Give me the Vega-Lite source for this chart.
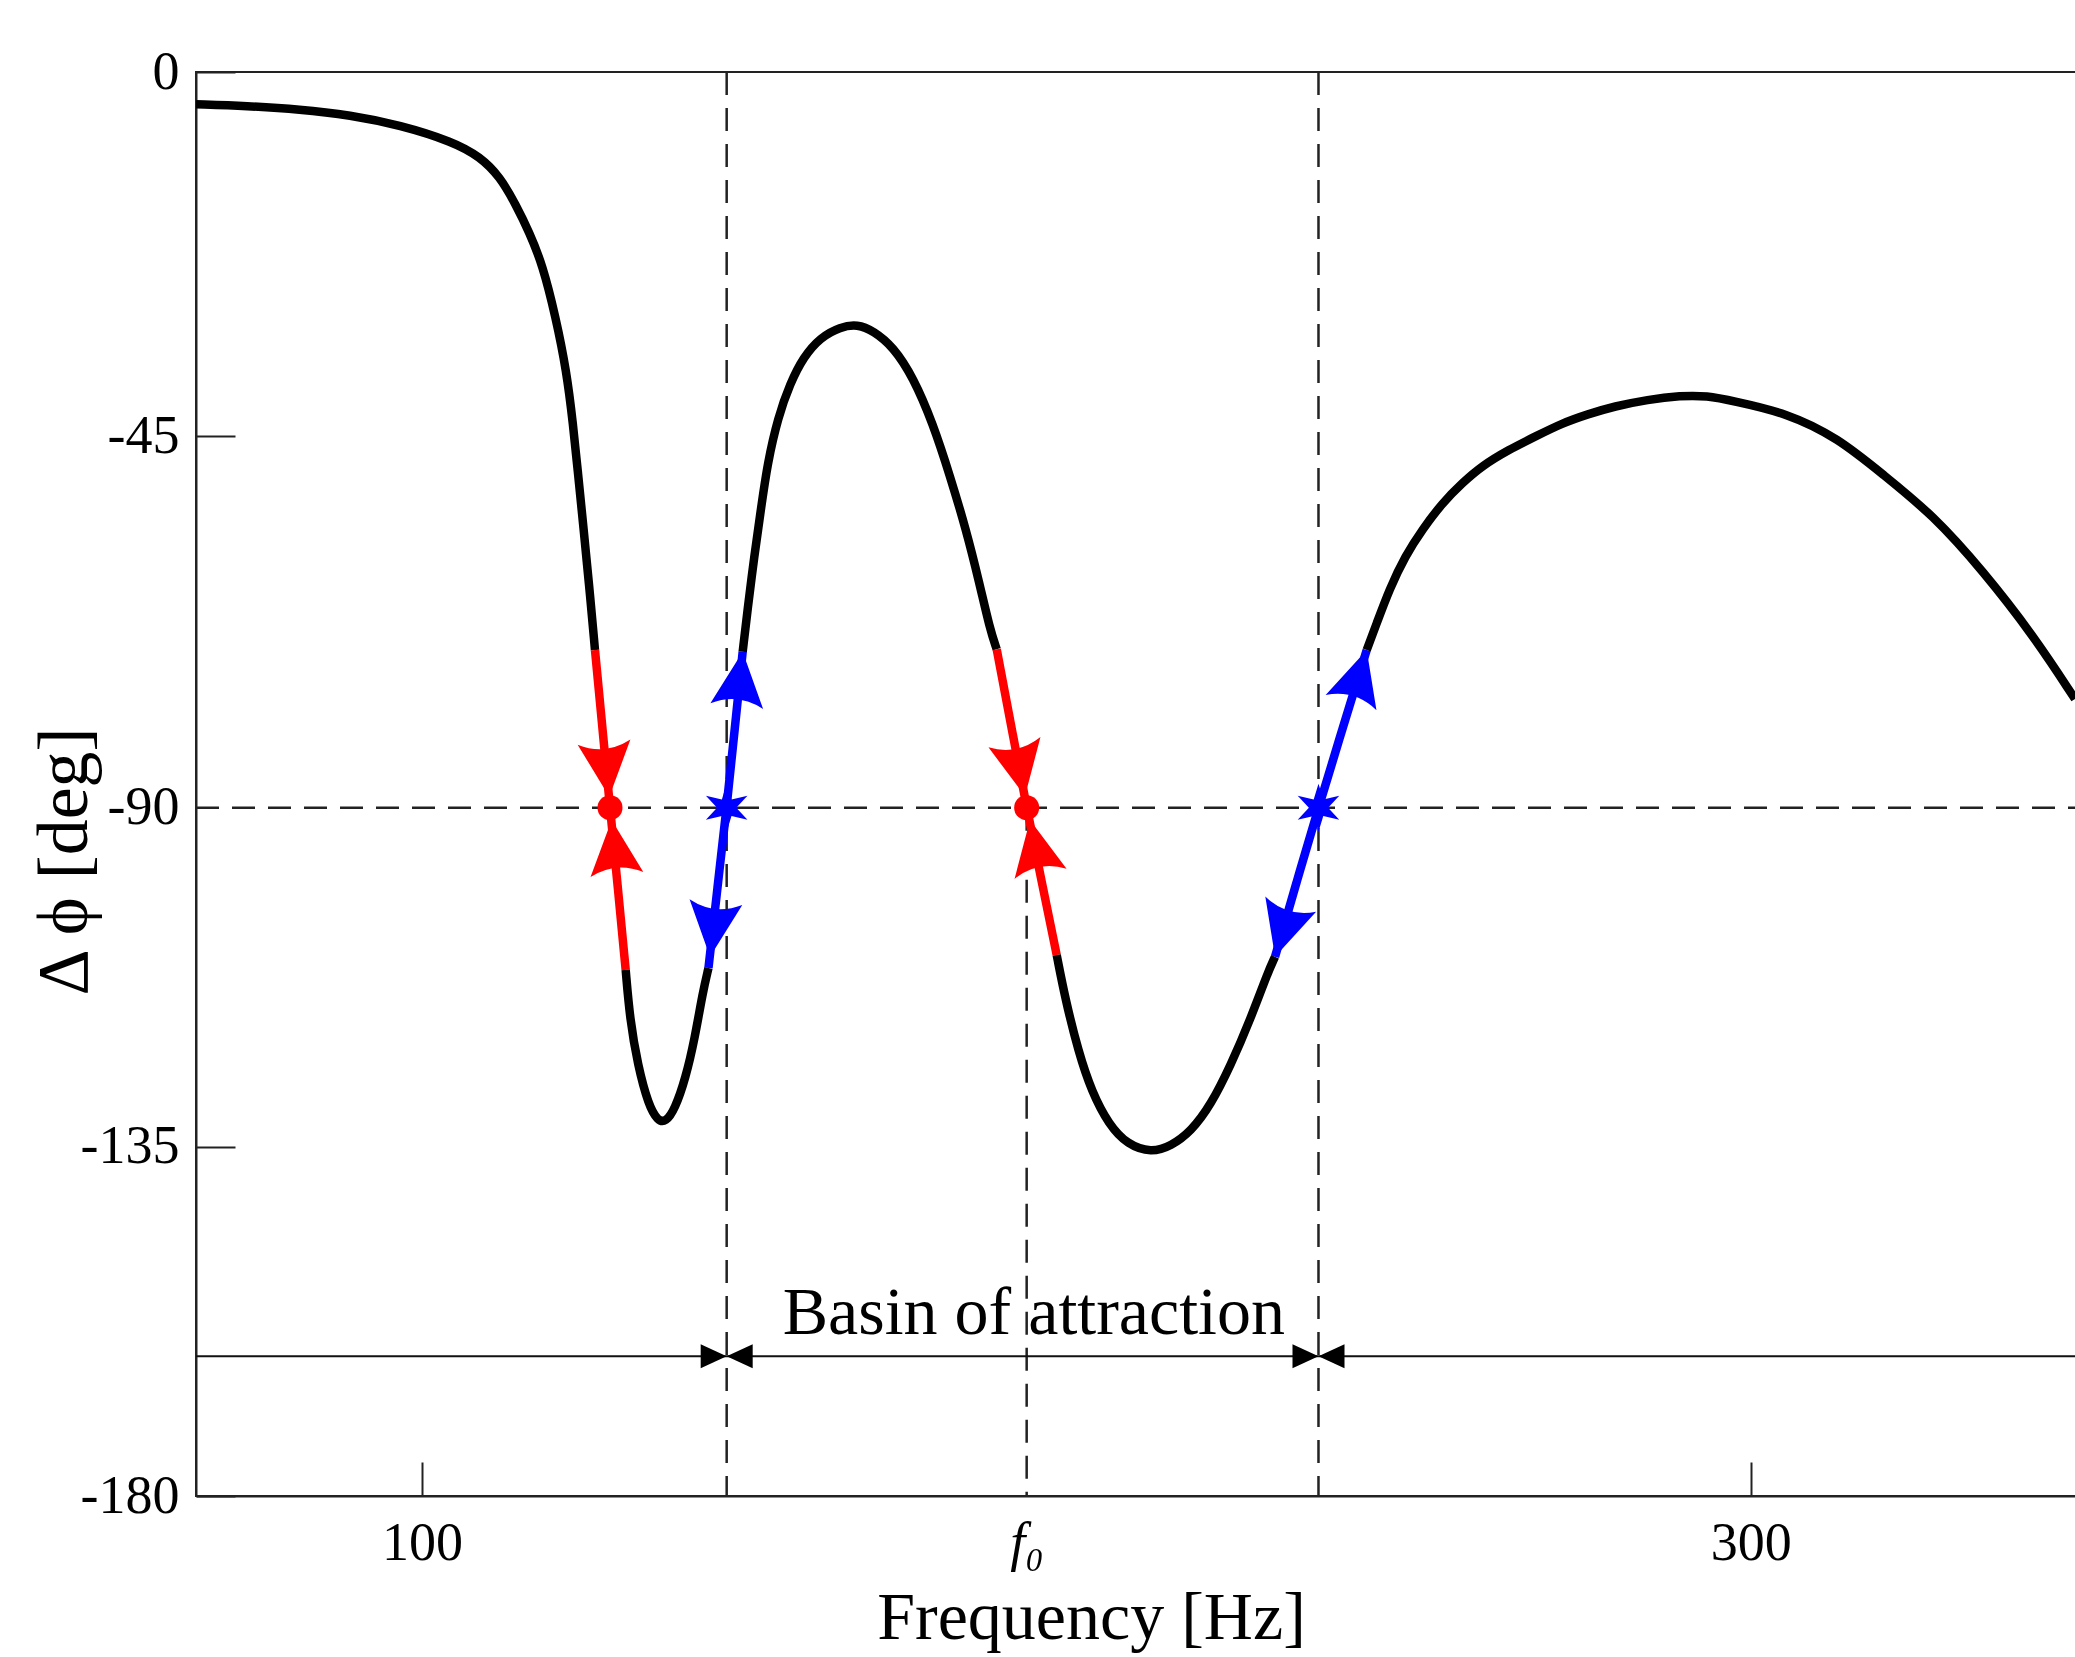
{
  "$schema": "https://vega.github.io/schema/vega-lite/v6.json",
  "width": 1880,
  "height": 1424,
  "autosize": {"type": "none"},
  "padding": {"left": 196, "top": 72, "right": 0, "bottom": 161},
  "background": "white",
  "config": {"view": {"stroke": "#222", "strokeWidth": 2}, "font": "Liberation Serif"},
  "datasets": {
    "curve": [
      {"f": 66.00, "p": -3.99, "s": "A", "k": "curve"},
      {"f": 73.63, "p": -4.20, "s": "A", "k": "curve"},
      {"f": 81.65, "p": -4.61, "s": "A", "k": "curve"},
      {"f": 89.18, "p": -5.32, "s": "A", "k": "curve"},
      {"f": 96.70, "p": -6.55, "s": "A", "k": "curve"},
      {"f": 104.68, "p": -8.62, "s": "A", "k": "curve"},
      {"f": 108.74, "p": -10.47, "s": "A", "k": "curve"},
      {"f": 111.75, "p": -12.94, "s": "A", "k": "curve"},
      {"f": 114.16, "p": -16.44, "s": "A", "k": "curve"},
      {"f": 116.12, "p": -19.73, "s": "A", "k": "curve"},
      {"f": 118.16, "p": -23.82, "s": "A", "k": "curve"},
      {"f": 120.15, "p": -30.36, "s": "A", "k": "curve"},
      {"f": 121.75, "p": -36.90, "s": "A", "k": "curve"},
      {"f": 122.74, "p": -43.45, "s": "A", "k": "curve"},
      {"f": 123.54, "p": -49.89, "s": "A", "k": "curve"},
      {"f": 124.34, "p": -56.30, "s": "A", "k": "curve"},
      {"f": 125.13, "p": -62.71, "s": "A", "k": "curve"},
      {"f": 126.05, "p": -70.91, "s": "A", "k": "curve"},
      {"f": 126.05, "p": -70.91, "s": "R1", "k": "stable"},
      {"f": 127.18, "p": -80.47, "s": "R1", "k": "stable"},
      {"f": 128.31, "p": -90.0, "s": "R1", "k": "stable"},
      {"f": 129.51, "p": -100.79, "s": "R1", "k": "stable"},
      {"f": 130.67, "p": -111.54, "s": "R1", "k": "stable"},
      {"f": 130.67, "p": -111.54, "s": "B", "k": "curve"},
      {"f": 131.30, "p": -118.05, "s": "B", "k": "curve"},
      {"f": 132.49, "p": -124.19, "s": "B", "k": "curve"},
      {"f": 134.09, "p": -129.46, "s": "B", "k": "curve"},
      {"f": 135.49, "p": -131.56, "s": "B", "k": "curve"},
      {"f": 136.68, "p": -131.75, "s": "B", "k": "curve"},
      {"f": 138.08, "p": -130.0, "s": "B", "k": "curve"},
      {"f": 139.67, "p": -125.95, "s": "B", "k": "curve"},
      {"f": 141.06, "p": -120.68, "s": "B", "k": "curve"},
      {"f": 142.26, "p": -114.53, "s": "B", "k": "curve"},
      {"f": 143.13, "p": -111.28, "s": "B", "k": "curve"},
      {"f": 143.13, "p": -111.28, "s": "U1", "k": "unstable"},
      {"f": 144.49, "p": -100.53, "s": "U1", "k": "unstable"},
      {"f": 145.87, "p": -90.0, "s": "U1", "k": "unstable"},
      {"f": 147.08, "p": -80.47, "s": "U1", "k": "unstable"},
      {"f": 148.28, "p": -71.11, "s": "U1", "k": "unstable"},
      {"f": 148.28, "p": -71.11, "s": "C", "k": "curve"},
      {"f": 149.03, "p": -65.91, "s": "C", "k": "curve"},
      {"f": 150.03, "p": -59.50, "s": "C", "k": "curve"},
      {"f": 151.02, "p": -53.90, "s": "C", "k": "curve"},
      {"f": 152.01, "p": -48.29, "s": "C", "k": "curve"},
      {"f": 153.61, "p": -42.63, "s": "C", "k": "curve"},
      {"f": 155.40, "p": -38.55, "s": "C", "k": "curve"},
      {"f": 157.39, "p": -35.27, "s": "C", "k": "curve"},
      {"f": 159.97, "p": -32.81, "s": "C", "k": "curve"},
      {"f": 162.97, "p": -31.51, "s": "C", "k": "curve"},
      {"f": 165.56, "p": -31.18, "s": "C", "k": "curve"},
      {"f": 167.95, "p": -32.0, "s": "C", "k": "curve"},
      {"f": 170.93, "p": -33.96, "s": "C", "k": "curve"},
      {"f": 173.93, "p": -37.72, "s": "C", "k": "curve"},
      {"f": 176.91, "p": -43.45, "s": "C", "k": "curve"},
      {"f": 179.50, "p": -49.89, "s": "C", "k": "curve"},
      {"f": 181.89, "p": -56.30, "s": "C", "k": "curve"},
      {"f": 183.88, "p": -62.71, "s": "C", "k": "curve"},
      {"f": 185.47, "p": -68.32, "s": "C", "k": "curve"},
      {"f": 186.51, "p": -70.82, "s": "C", "k": "curve"},
      {"f": 186.51, "p": -70.82, "s": "R2", "k": "stable"},
      {"f": 188.77, "p": -80.45, "s": "R2", "k": "stable"},
      {"f": 191.02, "p": -90.0, "s": "R2", "k": "stable"},
      {"f": 193.28, "p": -99.81, "s": "R2", "k": "stable"},
      {"f": 195.54, "p": -109.55, "s": "R2", "k": "stable"},
      {"f": 195.54, "p": -109.55, "s": "D", "k": "curve"},
      {"f": 196.83, "p": -115.39, "s": "D", "k": "curve"},
      {"f": 198.82, "p": -122.43, "s": "D", "k": "curve"},
      {"f": 200.81, "p": -127.70, "s": "D", "k": "curve"},
      {"f": 203.40, "p": -132.09, "s": "D", "k": "curve"},
      {"f": 206.20, "p": -134.73, "s": "D", "k": "curve"},
      {"f": 209.78, "p": -135.76, "s": "D", "k": "curve"},
      {"f": 212.76, "p": -134.9, "s": "D", "k": "curve"},
      {"f": 215.75, "p": -132.97, "s": "D", "k": "curve"},
      {"f": 218.73, "p": -129.46, "s": "D", "k": "curve"},
      {"f": 221.73, "p": -124.19, "s": "D", "k": "curve"},
      {"f": 224.71, "p": -118.05, "s": "D", "k": "curve"},
      {"f": 227.30, "p": -111.89, "s": "D", "k": "curve"},
      {"f": 228.40, "p": -109.78, "s": "D", "k": "curve"},
      {"f": 228.40, "p": -109.78, "s": "U2", "k": "unstable"},
      {"f": 231.66, "p": -99.82, "s": "U2", "k": "unstable"},
      {"f": 234.94, "p": -90.0, "s": "U2", "k": "unstable"},
      {"f": 238.57, "p": -80.40, "s": "U2", "k": "unstable"},
      {"f": 242.20, "p": -70.91, "s": "U2", "k": "unstable"},
      {"f": 242.20, "p": -70.91, "s": "E", "k": "curve"},
      {"f": 243.63, "p": -67.83, "s": "E", "k": "curve"},
      {"f": 245.63, "p": -63.51, "s": "E", "k": "curve"},
      {"f": 248.01, "p": -59.50, "s": "E", "k": "curve"},
      {"f": 250.59, "p": -56.30, "s": "E", "k": "curve"},
      {"f": 253.59, "p": -53.10, "s": "E", "k": "curve"},
      {"f": 256.58, "p": -50.69, "s": "E", "k": "curve"},
      {"f": 259.57, "p": -48.61, "s": "E", "k": "curve"},
      {"f": 263.55, "p": -46.68, "s": "E", "k": "curve"},
      {"f": 267.53, "p": -45.08, "s": "E", "k": "curve"},
      {"f": 271.52, "p": -43.45, "s": "E", "k": "curve"},
      {"f": 275.50, "p": -42.30, "s": "E", "k": "curve"},
      {"f": 279.48, "p": -41.33, "s": "E", "k": "curve"},
      {"f": 284.46, "p": -40.50, "s": "E", "k": "curve"},
      {"f": 289.44, "p": -40.02, "s": "E", "k": "curve"},
      {"f": 293.42, "p": -40.02, "s": "E", "k": "curve"},
      {"f": 297.33, "p": -40.67, "s": "E", "k": "curve"},
      {"f": 305.45, "p": -42.16, "s": "E", "k": "curve"},
      {"f": 313.13, "p": -45.24, "s": "E", "k": "curve"},
      {"f": 319.90, "p": -49.66, "s": "E", "k": "curve"},
      {"f": 327.43, "p": -54.56, "s": "E", "k": "curve"},
      {"f": 334.95, "p": -61.34, "s": "E", "k": "curve"},
      {"f": 342.48, "p": -69.09, "s": "E", "k": "curve"},
      {"f": 348.80, "p": -76.84, "s": "E", "k": "curve"}
    ],
    "arrows": [
      {"f": 128.20, "p": -88.67, "ang": 174.5, "k": "stable"},
      {"f": 128.56, "p": -91.63, "ang": -5.5, "k": "stable"},
      {"f": 148.28, "p": -71.11, "ang": 6.2, "k": "unstable"},
      {"f": 143.36, "p": -109.78, "ang": 186.2, "k": "unstable"},
      {"f": 190.77, "p": -88.59, "ang": 168.9, "k": "stable"},
      {"f": 191.52, "p": -91.63, "ang": -11.1, "k": "stable"},
      {"f": 242.20, "p": -70.91, "ang": 16.6, "k": "unstable"},
      {"f": 228.40, "p": -109.78, "ang": 196.6, "k": "unstable"}
    ],
    "stablePts": [
      {"f": 128.31, "p": -90.0, "k": "stable"},
      {"f": 191.02, "p": -90.0, "k": "stable"}
    ],
    "unstablePts": [
      {"f": 145.87, "p": -90.0, "k": "unstable"},
      {"f": 234.94, "p": -90.0, "k": "unstable"}
    ],
    "vlines": [
      {"f": 145.87, "p": 0, "p2": -180},
      {"f": 191.02, "p": -90, "p2": -180},
      {"f": 234.94, "p": 0, "p2": -180}
    ],
    "hline": [
      {"f": 66, "f2": 348.95, "p": -90}
    ],
    "basinLine": [
      {"f": 66, "f2": 348.95, "p": -162}
    ],
    "basinHeads": [
      {"f": 145.87, "p": -162, "dir": "right"},
      {"f": 145.87, "p": -162, "dir": "left"},
      {"f": 234.94, "p": -162, "dir": "right"},
      {"f": 234.94, "p": -162, "dir": "left"}
    ],
    "label": [
      {"f": 192.1, "p": -159.1, "t": "Basin of attraction"}
    ]
  },
  "encoding": {
    "x": {
      "field": "f",
      "type": "quantitative",
      "scale": {"domain": [66, 348.95], "nice": false, "zero": false},
      "axis": {
        "title": "Frequency [Hz]",
        "values": [100, 191.02, 300],
        "labelExpr": "datum.value > 150 && datum.value < 250 ? 'f₀' : datum.label",
        "labelFontStyle": {"condition": {"test": "datum.value > 150 && datum.value < 250", "value": "italic"}, "value": "normal"},
        "tickOpacity": {"condition": {"test": "datum.value > 150 && datum.value < 250", "value": 0}, "value": 1},
        "tickSize": -34,
        "tickWidth": 2,
        "tickColor": "#222",
        "domainColor": "#222",
        "domainWidth": 2,
        "grid": false,
        "labelPadding": 97,
        "labelBaseline": "alphabetic",
        "labelFont": "Liberation Serif",
        "labelFontSize": 54,
        "labelColor": "#000",
        "labelFlush": false,
        "labelOverlap": false,
        "titleFont": "Liberation Serif",
        "titleFontSize": 68,
        "titleFontWeight": "normal",
        "titleColor": "#000",
        "titleAlign": "center",
        "titleBaseline": "alphabetic",
        "titleX": 895,
        "titleY": 142
      }
    },
    "y": {
      "field": "p",
      "type": "quantitative",
      "scale": {"domain": [-180, -135, -90, -45, 0], "range": [1424, 1074.7, 735.7, 364, 0], "nice": false, "zero": false},
      "axis": {
        "title": "Δ ϕ [deg]",
        "values": [0, -45, -90, -135, -180],
        "labelExpr": "datum.value == 0 ? '0' : '-' + abs(datum.value)",
        "tickOpacity": {"condition": {"test": "datum.value == -90", "value": 0}, "value": 1},
        "tickSize": -39,
        "tickWidth": 2,
        "tickColor": "#222",
        "domainColor": "#222",
        "domainWidth": 2,
        "grid": false,
        "labelPadding": 56,
        "labelAlign": "right",
        "labelBaseline": "middle",
        "labelFont": "Liberation Serif",
        "labelFontSize": 54,
        "labelColor": "#000",
        "labelFlush": false,
        "labelOverlap": false,
        "titleFont": "Liberation Serif",
        "titleFontSize": 72,
        "titleFontWeight": "normal",
        "titleColor": "#000",
        "titleAngle": 270,
        "titleAlign": "center",
        "titleBaseline": "alphabetic",
        "titleX": -110,
        "titleY": 789
      }
    }
  },
  "layer": [
    {
      "data": {"name": "vlines"},
      "mark": {"type": "rule", "color": "#222", "strokeWidth": 2.5, "strokeDash": [23, 13]},
      "encoding": {"y2": {"field": "p2"}}
    },
    {
      "data": {"name": "hline"},
      "mark": {"type": "rule", "color": "#222", "strokeWidth": 2.5, "strokeDash": [23, 13]},
      "encoding": {"x2": {"field": "f2"}}
    },
    {
      "data": {"name": "basinLine"},
      "mark": {"type": "rule", "color": "#111", "strokeWidth": 2},
      "encoding": {"x2": {"field": "f2"}}
    },
    {
      "data": {"name": "basinHeads"},
      "mark": {"type": "point", "filled": true, "opacity": 1, "size": 676, "color": "#000", "strokeWidth": 0},
      "encoding": {
        "shape": {"field": "dir", "type": "nominal", "scale": {"domain": ["right", "left"], "range": ["M0,0L-2,-0.92L-2,0.92Z", "M0,0L2,-0.92L2,0.92Z"]}, "legend": null}
      }
    },
    {
      "data": {"name": "curve"},
      "mark": {"type": "line", "strokeWidth": 8.5, "interpolate": "basis", "strokeCap": "butt", "clip": true},
      "encoding": {
        "detail": {"field": "s", "type": "nominal"},
        "color": {"field": "k", "type": "nominal", "scale": {"domain": ["curve", "stable", "unstable"], "range": ["#000000", "#ff0000", "#0000ff"]}, "legend": null}
      }
    },
    {
      "data": {"name": "arrows"},
      "mark": {"type": "point", "filled": true, "opacity": 1, "size": 2809, "strokeWidth": 0, "shape": "M0,0L1,2.07Q0,1.55,-1,2.07Z"},
      "encoding": {
        "angle": {"field": "ang", "type": "quantitative", "scale": null},
        "color": {"field": "k", "type": "nominal", "scale": {"domain": ["curve", "stable", "unstable"], "range": ["#000000", "#ff0000", "#0000ff"]}, "legend": null}
      }
    },
    {
      "data": {"name": "stablePts"},
      "mark": {"type": "point", "filled": true, "opacity": 1, "size": 625, "shape": "circle", "strokeWidth": 0},
      "encoding": {
        "color": {"field": "k", "type": "nominal", "scale": {"domain": ["curve", "stable", "unstable"], "range": ["#000000", "#ff0000", "#0000ff"]}, "legend": null}
      }
    },
    {
      "data": {"name": "unstablePts"},
      "mark": {"type": "point", "filled": true, "opacity": 1, "size": 2304, "strokeWidth": 0, "shape": "M0,-1L0.2,-0.346L0.866,-0.5L0.4,0L0.866,0.5L0.2,0.346L0,1L-0.2,0.346L-0.866,0.5L-0.4,0L-0.866,-0.5L-0.2,-0.346Z"},
      "encoding": {
        "color": {"field": "k", "type": "nominal", "scale": {"domain": ["curve", "stable", "unstable"], "range": ["#000000", "#ff0000", "#0000ff"]}, "legend": null}
      }
    },
    {
      "data": {"name": "label"},
      "mark": {"type": "text", "font": "Liberation Serif", "fontSize": 68, "align": "center", "baseline": "alphabetic", "color": "#000"},
      "encoding": {"text": {"field": "t", "type": "nominal"}}
    }
  ]
}
